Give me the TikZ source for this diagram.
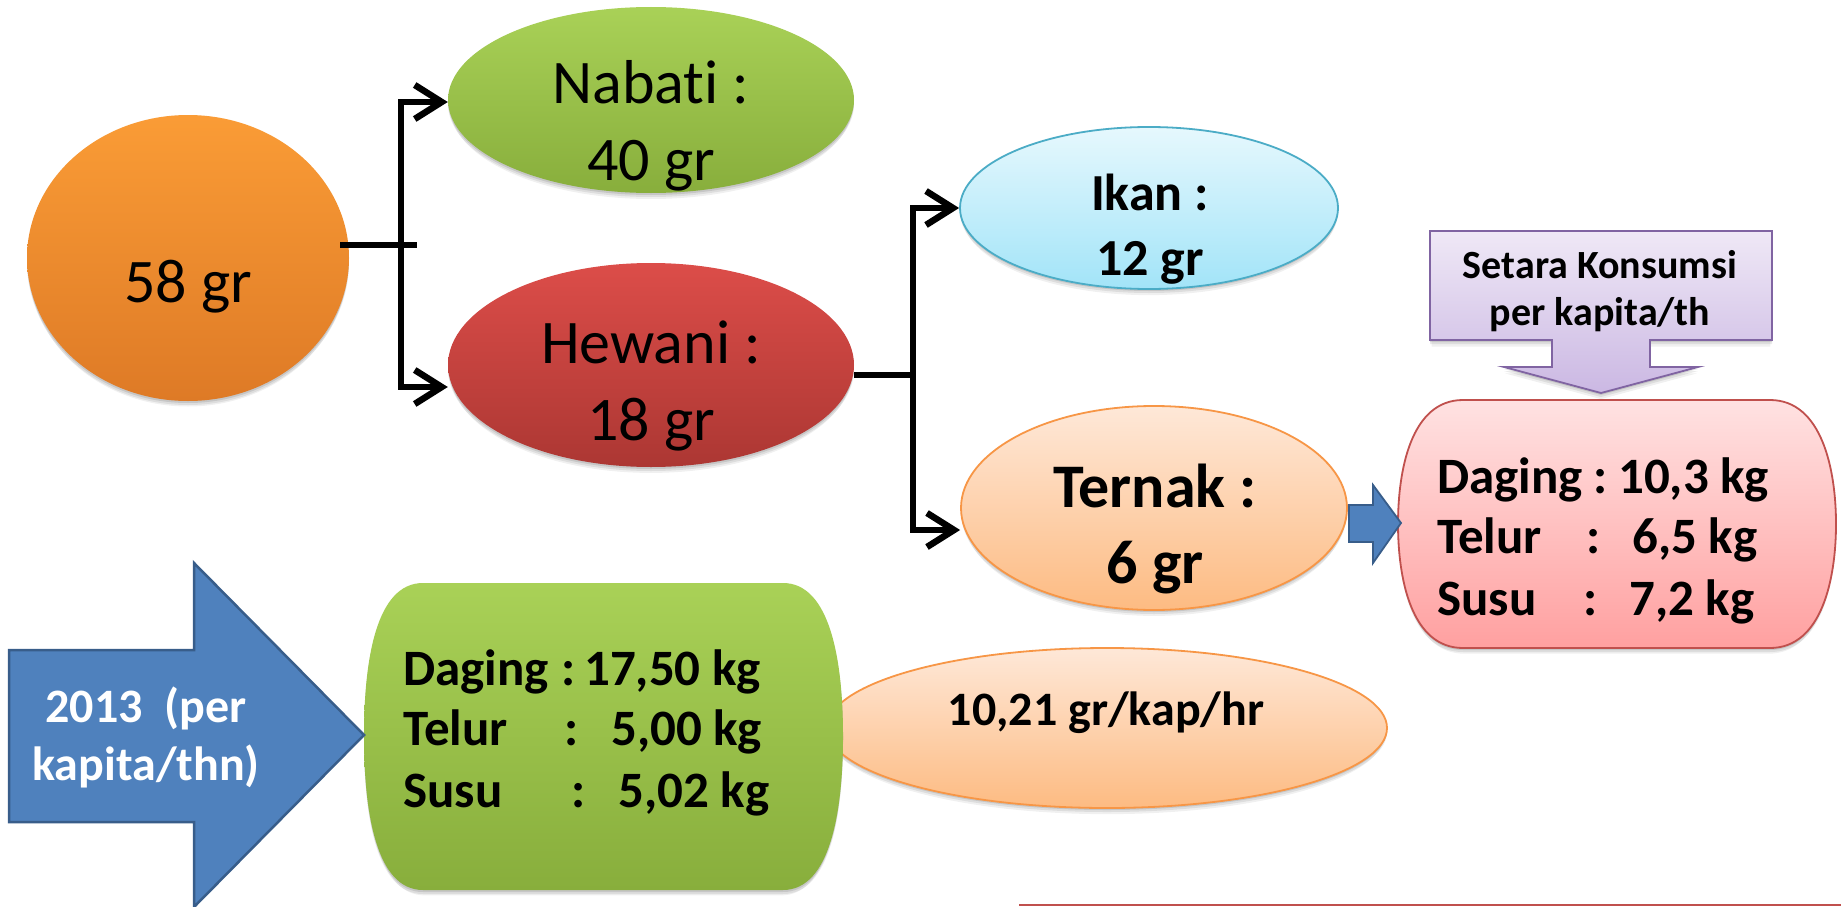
\documentclass[tikz,border=0pt]{standalone}
\usepackage{fontspec}
\setmainfont{Carlito}[Ligatures=NoCommon]
\usetikzlibrary{shapes.geometric,arrows.meta,shadows,calc}
\definecolor{orT}{HTML}{FA9C36}
\definecolor{orB}{HTML}{DE7A26}
\definecolor{grT}{HTML}{A9D157}
\definecolor{grB}{HTML}{88AE3C}
\definecolor{rdT}{HTML}{DC4D49}
\definecolor{rdB}{HTML}{AC3733}
\definecolor{cyT}{HTML}{E6F8FD}
\definecolor{cyB}{HTML}{A2E4F8}
\definecolor{cyD}{HTML}{4BACC6}
\definecolor{peT}{HTML}{FEE8D8}
\definecolor{peB}{HTML}{FDBB82}
\definecolor{peD}{HTML}{F79646}
\definecolor{puT}{HTML}{EFE8F6}
\definecolor{puB}{HTML}{CBB8E3}
\definecolor{puD}{HTML}{8064A2}
\definecolor{pkT}{HTML}{FFE2E2}
\definecolor{pkB}{HTML}{FFA0A0}
\definecolor{pkD}{HTML}{C0504D}
\definecolor{blF}{HTML}{4F81BD}
\definecolor{blD}{HTML}{385D8A}
\tikzset{
  shad/.style={
    general shadow={shadow yshift=-2pt,opacity=0.10,fill=black},
    general shadow={shadow yshift=-4pt,opacity=0.08,fill=black},
    general shadow={shadow yshift=-7pt,shadow scale=0.99,opacity=0.06,fill=black}},
  blob/.style={ellipse,inner sep=0pt,shad},
  conn/.style={line width=6.5pt,black,line join=miter},
  arr/.style={conn,-{Straight Barb[length=27pt,width=34pt]}},
  big/.style={font=\fontsize{62}{62}\selectfont,anchor=base},
  bigb/.style={font=\bfseries\fontsize{62}{62}\selectfont,anchor=base},
  midb/.style={font=\bfseries\fontsize{52}{52}\selectfont,anchor=base},
  boxt/.style={font=\bfseries\fontsize{51}{51}\selectfont,anchor=base west,inner sep=0pt},
  smallb/.style={font=\bfseries\fontsize{40}{40}\selectfont,anchor=base},
}
\newcommand{\rowA}[4]{\makebox[#1pt][l]{#3}\makebox[#2pt][l]{:}#4}
\begin{document}
\begin{tikzpicture}[x=1pt,y=-1pt]
\useasboundingbox (0,0) rectangle (1841,907);
\fill[white] (0,0) rectangle (1841,907);

% ellipses
\node[blob,minimum width=322pt,minimum height=286pt,top color=orT,bottom color=orB] (c58) at (188,258) {};
\node[blob,minimum width=406pt,minimum height=186pt,top color=grT,bottom color=grB] (nab) at (651,100) {};
\node[blob,minimum width=406pt,minimum height=204pt,top color=rdT,bottom color=rdB] (hew) at (651,365) {};
\node[blob,minimum width=378pt,minimum height=162pt,top color=cyT,bottom color=cyB,draw=cyD,line width=1.8pt] (ikan) at (1149,208) {};
\node[blob,minimum width=386pt,minimum height=204pt,top color=peT,bottom color=peB,draw=peD,line width=1.8pt] (ter) at (1154,508) {};
\node[blob,minimum width=560pt,minimum height=160pt,top color=peT,bottom color=peB,draw=peD,line width=1.8pt] (kap) at (1107,728) {};

% texts in ellipses
\node[big] (t58) at (188,302) {58 gr};
\node[big] (tnab1) at (651,103) {Nabati :};
\node[big] (tnab2) at (651,180) {40 gr};
\node[big] (thew1) at (651,363) {Hewani :};
\node[big] (thew2) at (651,440) {18 gr};
\node[midb] (tik1) at (1150,210) {Ikan :};
\node[midb] (tik2) at (1150,275) {12 gr};
\node[bigb] (tter1) at (1155,507) {Ternak :};
\node[bigb] (tter2) at (1155,583) {6 gr};
\node[font=\bfseries\fontsize{48}{48}\selectfont,anchor=base] (tkap) at (1106,725) {10,21 gr/kap/hr};

% connectors
\coordinate (j1) at (401,245);
\coordinate (j2) at (913,375);
\draw[conn] ([xshift=-9pt]c58.east |- j1) -- ($(j1)+(16,0)$);
\draw[arr] ($(j1)+(0,3.25)$) |- ([yshift=-2pt]nab.west);
\draw[arr] ($(j1)+(0,-3.25)$) |- ([yshift=-22pt]hew.west);
\draw[conn] ([yshift=-10pt]hew.east) -- ($(j2)+(3.25,0)$);
\draw[arr] ($(j2)+(0,3.25)$) |- (ikan.west);
\draw[arr] ($(j2)+(0,-3.25)$) |- ([yshift=-22pt]ter.west);

% purple callout
\path[shad,top color=puT,bottom color=puB,draw=puD,line width=1.8pt]
  (1430,231) -- (1772,231) -- (1772,340) -- (1650,340) -- (1650,367) -- (1698,367)
  -- (1601,393) -- (1504,367) -- (1552,367) -- (1552,340) -- (1430,340) -- cycle;
\node[smallb] (set1) at (1600,278) {Setara Konsumsi};
\node[smallb] (set2) at (1600,325) {per kapita/th};

% pink box
\path[shad,top color=pkT,bottom color=pkB,draw=pkD,line width=1.8pt]
  (1463,400) -- (1770,400) .. controls (1822,400) and (1836,470) .. (1836,524)
  .. controls (1836,578) and (1822,648) .. (1770,648) -- (1463,648)
  .. controls (1411,648) and (1398,578) .. (1398,524)
  .. controls (1398,470) and (1411,400) .. (1463,400) -- cycle;
\node[boxt] (r1) at (1437,493) {\rowA{156}{25}{Daging}{10,3 kg}};
\node[boxt] (r2) at (1437,553) {\rowA{149}{46}{Telur}{6,5 kg}};
\node[boxt] (r3) at (1437,615) {\rowA{146}{46}{Susu}{7,2 kg}};

% small blue arrow
\path[fill=blF,draw=blD,line width=1.8pt]
  (1349,505) -- (1373,505) -- (1373,485) -- (1401,523) -- (1373,563) -- (1373,542) -- (1349,542) -- cycle;

% green box
\path[shad,top color=grT,bottom color=grB]
  (423,583) -- (783,583) .. controls (830,583) and (843,660) .. (843,736)
  .. controls (843,812) and (830,890) .. (783,890) -- (423,890)
  .. controls (376,890) and (364,812) .. (364,736)
  .. controls (364,660) and (376,583) .. (423,583) -- cycle;
\node[boxt] (g1) at (403,685) {\rowA{158}{23}{Daging}{17,50 kg}};
\node[boxt] (g2) at (403,745) {\rowA{161}{47}{Telur}{5,00 kg}};
\node[boxt] (g3) at (403,807) {\rowA{168}{47}{Susu}{5,02 kg}};

% big blue arrow
\path[fill=blF,draw=blD,line width=2.5pt]
  (9,650) -- (194,650) -- (194,563) -- (364,735) -- (194,907) -- (194,822) -- (9,822) -- cycle;
\node[font=\bfseries\fontsize{48}{48}\selectfont,anchor=base,text=white] (y1) at (146,722) {2013\ \ (per};
\node[font=\bfseries\fontsize{48}{48}\selectfont,anchor=base,text=white] (y2) at (146,780) {kapita/thn)};

% bottom line
\draw[pkD,line width=2.5pt] (1019,905) -- (1841,905);
\end{tikzpicture}
\end{document}
